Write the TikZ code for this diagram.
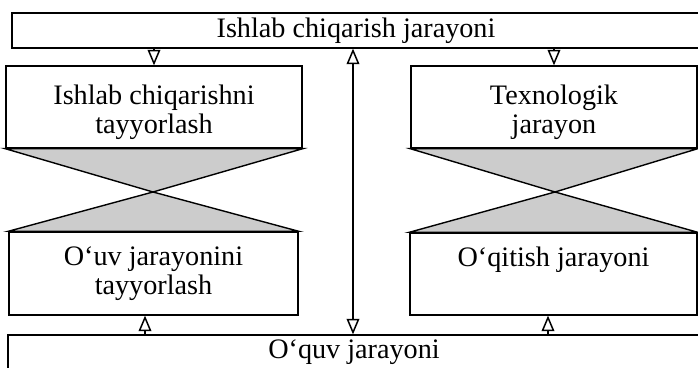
\documentclass[tikz,border=0pt]{standalone}
\usepackage{fontspec}
\setmainfont{Liberation Serif}
\usetikzlibrary{arrows}
\tikzset{
  blok/.style={draw, line width=0.7pt, inner sep=2pt, align=center,
    font=\fontsize{14.1}{14.5}\selectfont},
  strel/.style={line width=0.75pt, -open triangle 45},
  tenj/.style={draw, line width=0.7pt, fill=black!20},
}
\begin{document}
\begin{tikzpicture}[x=0.5pt,y=-0.5pt]
  \useasboundingbox (0,0) rectangle (698,368);
  \node[blok, minimum width=344pt, minimum height=17.5pt] (ishlab) at (356,30.5) {Ishlab chiqarish jarayoni};
  \node[blok, minimum width=148pt, minimum height=41pt, text height=30pt] (tayyor) at (154,107) {Ishlab chiqarishni\\tayyorlash};
  \node[blok, minimum width=143pt, minimum height=41pt, text height=30pt] (texno) at (554,107) {Texnologik\\jarayon};
  \node[blok, minimum width=144.5pt, minimum height=41.5pt] (oquvtay) at (153.5,273.5) {O‘uv jarayonini\\tayyorlash};
  \node[blok, minimum width=143.5pt, minimum height=41pt, text depth=17pt] (oqitish) at (553.5,274) {O‘qitish jarayoni};
  \node[blok, minimum width=346pt, minimum height=17.5pt] (oquv) at (354,352.5) {O‘quv jarayoni};
  \coordinate (kesL) at (153,192);
  \coordinate (kesR) at (555,192);
  \coordinate (aL) at (145,0);
  \coordinate (aR) at (548,0);
  \coordinate (orta) at (353,0);
  \filldraw[tenj] (tayyor.south west) -- (tayyor.south east) -- (kesL) -- cycle;
  \filldraw[tenj] (oquvtay.north west) -- (oquvtay.north east) -- (kesL) -- cycle;
  \filldraw[tenj] (texno.south west) -- (texno.south east) -- (kesR) -- cycle;
  \filldraw[tenj] (oqitish.north west) -- (oqitish.north east) -- (kesR) -- cycle;
  \draw[strel] (ishlab.south -| tayyor) -- (tayyor.north);
  \draw[strel] (ishlab.south -| texno) -- (texno.north);
  \draw[strel] (oquv.north -| aL) -- (oquvtay.south -| aL);
  \draw[strel] (oquv.north -| aR) -- (oqitish.south -| aR);
  \draw[strel, open triangle 45-open triangle 45] (oquv.north -| orta) -- (ishlab.south -| orta);
\end{tikzpicture}
\end{document}
